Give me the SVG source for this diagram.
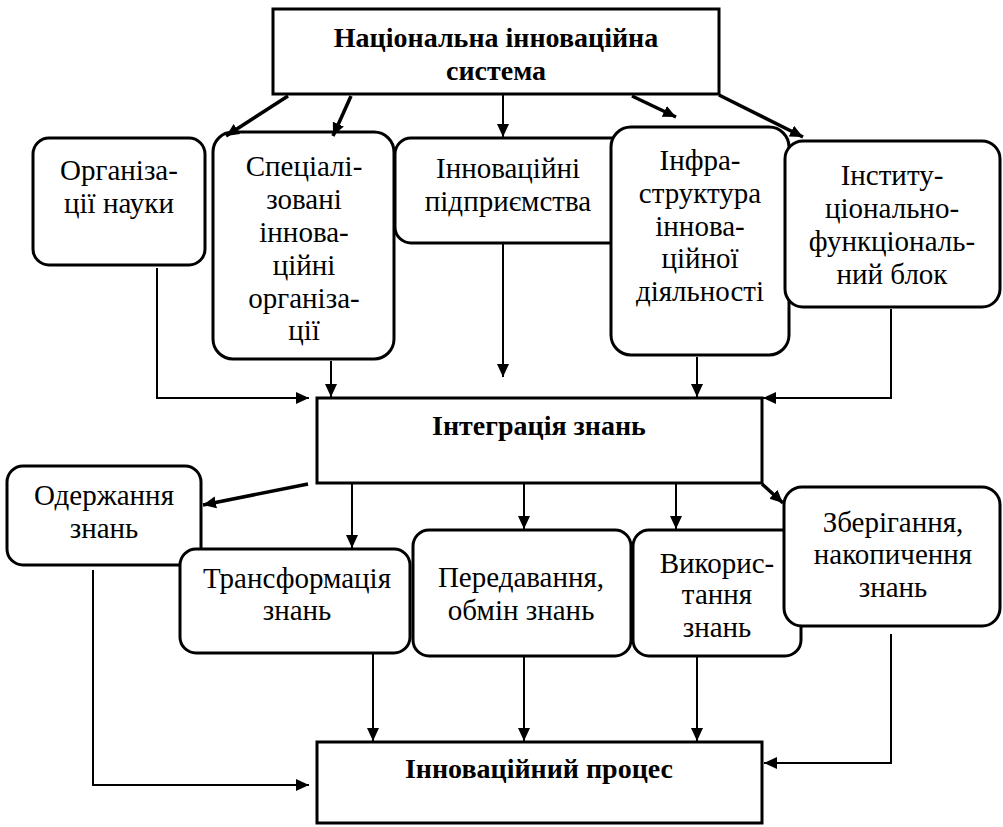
<svg xmlns="http://www.w3.org/2000/svg" width="1003" height="827" viewBox="0 0 1003 827" font-family="Liberation Serif, Times New Roman, serif">
<style>
text{font-family:"Liberation Serif","Times New Roman",serif;font-size:29px;fill:#000;text-anchor:middle}
.b{font-weight:bold;font-size:28px}
.box{fill:#fff;stroke:#000;stroke-width:3}
.sq{fill:#fff;stroke:#000;stroke-width:3}
.thin{fill:none;stroke:#000;stroke-width:2;marker-end:url(#ah)}
.thick{fill:none;stroke:#000;stroke-width:3.5;marker-end:url(#ah)}
</style>
<defs>
<marker id="ah" markerWidth="14" markerHeight="14" viewBox="0 0 14 14" refX="13" refY="7" orient="auto" markerUnits="userSpaceOnUse"><path d="M0,1 L13,7 L0,13 z" fill="#000"/></marker>
</defs>
<rect width="1003" height="827" fill="#fff"/>
<g id="nis"><rect class="sq" x="273" y="9" width="446" height="85"/><text class="b" x="496" y="47">Національна інноваційна</text><text class="b" x="496" y="80">система</text></g>
<g id="org-nauky"><rect class="box" x="33" y="138" width="172" height="127" rx="16"/><text x="119" y="180">Організа-</text><text x="119" y="213">ції науки</text></g>
<g id="innov-pidpr"><rect class="box" x="395" y="138" width="245" height="105" rx="16"/><text x="508" y="178">Інноваційні</text><text x="508" y="211">підприємства</text></g>
<g id="spec-org"><rect class="box" x="213" y="132" width="181" height="227" rx="20"/><text x="304" y="176">Спеціалі-</text><text x="304" y="209">зовані</text><text x="304" y="242">іннова-</text><text x="304" y="275">ційні</text><text x="304" y="308">організа-</text><text x="304" y="340">ції</text></g>
<g id="infra"><rect class="box" x="611" y="127" width="178" height="228" rx="20"/><text x="700" y="170">Інфра-</text><text x="700" y="203">структура</text><text x="700" y="236">іннова-</text><text x="700" y="268">ційної</text><text x="700" y="301">діяльності</text></g>
<g id="inst"><rect class="box" x="785" y="141" width="215" height="166" rx="18"/><text x="892" y="185">Інститу-</text><text x="892" y="218">ціонально-</text><text x="892" y="251">функціональ-</text><text x="892" y="284">ний блок</text></g>
<g id="integr"><rect class="sq" x="317" y="398" width="445" height="85"/><text class="b" x="539" y="435">Інтеграція знань</text></g>
<g id="oderzh"><rect class="box" x="7" y="466" width="194" height="99" rx="16"/><text x="104" y="505">Одержання</text><text x="104" y="538">знань</text></g>
<g id="transf"><rect class="box" x="180" y="549" width="230" height="104" rx="16"/><text x="297" y="588">Трансформація</text><text x="297" y="620">знань</text></g>
<g id="peredav"><rect class="box" x="413" y="530" width="218" height="126" rx="16"/><text x="521" y="587">Передавання,</text><text x="521" y="620">обмін знань</text></g>
<g id="vykor"><rect class="box" x="633" y="530" width="168" height="126" rx="16"/><text x="717" y="573">Викорис-</text><text x="717" y="604">тання</text><text x="717" y="637">знань</text></g>
<g id="zberig"><rect class="box" x="784" y="487" width="216" height="139" rx="18"/><text x="893" y="532">Зберігання,</text><text x="893" y="564">накопичення</text><text x="893" y="597">знань</text></g>
<g id="proces"><rect class="sq" x="317" y="742" width="445" height="81"/><text class="b" x="539" y="778">Інноваційний процес</text></g>
<g id="connectors">
<path class="thick" d="M288,96 L226,136"/>
<path class="thick" d="M351,96 L333,136"/>
<path class="thin" d="M503,95 V137"/>
<path class="thick" d="M632,96 L676,117"/>
<path class="thick" d="M719,95 L803,137"/>
<path class="thin" d="M157,268 V398 H309"/>
<path class="thin" d="M331,361 V397"/>
<path class="thin" d="M503,244 V377"/>
<path class="thin" d="M697,357 V397"/>
<path class="thin" d="M891,309 V398 H763"/>
<path class="thick" d="M308,484 L203,505"/>
<path class="thin" d="M352,484 V548"/>
<path class="thin" d="M524,484 V529"/>
<path class="thin" d="M676,484 V529"/>
<path class="thick" d="M762,484 L783,503"/>
<path class="thin" d="M93,570 V785 H309"/>
<path class="thin" d="M373,654 V741"/>
<path class="thin" d="M524,657 V741"/>
<path class="thin" d="M697,657 V741"/>
<path class="thin" d="M891,634 V763 H764"/>
</g>
</svg>
